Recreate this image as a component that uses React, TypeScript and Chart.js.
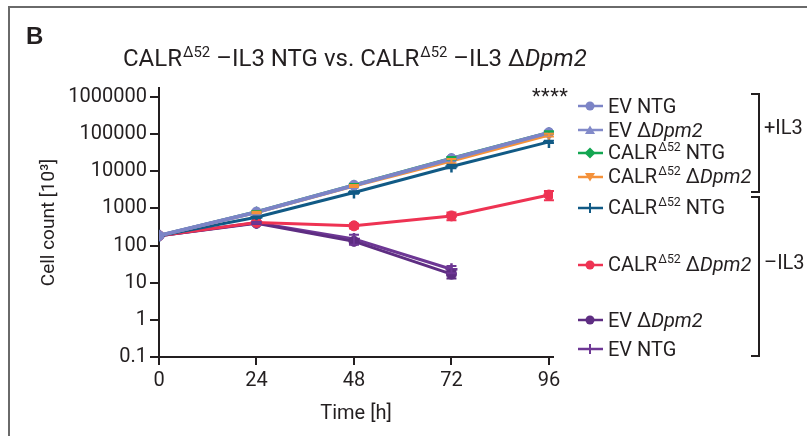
import React, { useEffect, useRef } from "react";
import { Chart, registerables } from "chart.js";
Chart.register(...registerables);

const timePoints = [0, 24, 48, 72, 96];
const xTicks = [0, 24, 48, 72, 96];
const yTicks = [0.1, 1, 10, 100, 1000, 10000, 100000, 1000000];

const seriesLabels = [
  "EV NTG +IL3",
  "EV ΔDpm2 +IL3",
  "CALRΔ52 NTG +IL3",
  "CALRΔ52 ΔDpm2 +IL3",
  "CALRΔ52 NTG −IL3",
  "CALRΔ52 ΔDpm2 −IL3",
  "EV ΔDpm2 −IL3",
  "EV NTG −IL3",
];

const evNtgPlus = [185, 800, 4200, 22000, 110000];
const evDpmPlus = [185, 790, 4100, 21500, 108000];
const calrNtgPlus = [185, 820, 4300, 22500, 112000];
const calrDpmPlus = [185, 780, 4000, 19000, 95000];
const calrNtgMinus = [185, 580, 2700, 13500, 62000];
const calrDpmMinus = [185, 420, 340, 630, 2300];
const evDpmMinus = [185, 400, 130, 17];
const evNtgMinus = [185, 410, 150, 23];

const evNtgPlusErr = [0, 40, 200, 1500, 6000];
const evDpmPlusErr = [0, 40, 200, 1500, 6000];
const calrNtgPlusErr = [0, 40, 250, 1800, 7000];
const calrDpmPlusErr = [0, 40, 250, 2500, 8000];
const calrNtgMinusErr = [0, 30, 200, 1500, 4000];
const calrDpmMinusErr = [0, 30, 50, 150, 650];
const evDpmMinusErr = [0, 20, 15, 4];
const evNtgMinusErr = [0, 20, 45, 5];

const colors = ["#7c84c6", "#828ac9", "#13a651", "#f4913a", "#115a85", "#ee3353", "#5e2d82", "#6d3794"];
const styles = ["circle", "triangle", "rectRot", "triangle", "cross", "circle", "circle", "cross"];
const rotations = [0, 0, 0, 180, 0, 0, 0, 0];
const values = [evNtgPlus, evDpmPlus, calrNtgPlus, calrDpmPlus, calrNtgMinus, calrDpmMinus, evDpmMinus, evNtgMinus];
const errors = [evNtgPlusErr, evDpmPlusErr, calrNtgPlusErr, calrDpmPlusErr, calrNtgMinusErr, calrDpmMinusErr, evDpmMinusErr, evNtgMinusErr];

const FONT = "Roboto, 'Noto Sans', sans-serif";
const INK = "#231f20";

const errorBarPlugin = {
  id: "errorBars",
  afterDatasetsDraw(chart: any) {
    const ctx = chart.ctx;
    const xs = chart.scales.x;
    const ys = chart.scales.y;
    chart.data.datasets.forEach((ds: any) => {
      const err = ds.errors as number[];
      if (!err) return;
      ctx.save();
      ctx.strokeStyle = ds.borderColor;
      ctx.lineWidth = 2;
      ds.data.forEach((pt: any, j: number) => {
        const e = err[j];
        if (!e) return;
        const px = xs.getPixelForValue(pt.x);
        const top = ys.getPixelForValue(pt.y + e);
        const bot = ys.getPixelForValue(Math.max(pt.y - e, pt.y * 0.05));
        ctx.beginPath();
        ctx.moveTo(px, top);
        ctx.lineTo(px, bot);
        ctx.moveTo(px - 5, top);
        ctx.lineTo(px + 5, top);
        ctx.moveTo(px - 5, bot);
        ctx.lineTo(px + 5, bot);
        ctx.stroke();
      });
      ctx.restore();
    });
  },
};

function Marker({ idx }: { idx: number }) {
  const c = colors[idx];
  const s = styles[idx];
  let shape: any = null;
  if (s === "circle") shape = <circle cx={12} cy={6} r={4.5} fill={c} />;
  else if (s === "triangle" && rotations[idx] === 0) shape = <polygon points="12,1.5 17,10 7,10" fill={c} />;
  else if (s === "triangle") shape = <polygon points="12,10.5 17,2 7,2" fill={c} />;
  else if (s === "rectRot") shape = <polygon points="12,0.5 17.5,6 12,11.5 6.5,6" fill={c} />;
  else shape = <line x1={12} y1={1} x2={12} y2={11} stroke={c} strokeWidth={2} />;
  return (
    <svg width={25} height={12} style={{ display: "block" }}>
      <line x1={0} y1={6} x2={25} y2={6} stroke={c} strokeWidth={2.5} />
      {shape}
    </svg>
  );
}

const Sup = ({ children }: any) => (
  <span style={{ fontSize: "0.62em", position: "relative", top: "-0.6em", marginLeft: 1 }}>{children}</span>
);
const Calr = () => (
  <>
    CALR<Sup>Δ52</Sup>
  </>
);
const Dpm = () => (
  <>
    Δ<i>Dpm2</i>
  </>
);

const legendRows: { idx: number; y: number; text: any }[] = [
  { idx: 0, y: 106, text: <>EV NTG</> },
  { idx: 1, y: 130, text: <>EV <Dpm /></> },
  { idx: 2, y: 153, text: <><Calr /> NTG</> },
  { idx: 3, y: 177, text: <><Calr /> <Dpm /></> },
  { idx: 4, y: 208, text: <><Calr /> NTG</> },
  { idx: 5, y: 265, text: <><Calr /> <Dpm /></> },
  { idx: 6, y: 320, text: <>EV <Dpm /></> },
  { idx: 7, y: 349, text: <>EV NTG</> },
];

export default function App() {
  const ref = useRef<HTMLCanvasElement | null>(null);
  useEffect(() => {
    if (!ref.current) return;
    const datasets = values.map((vals, i) => ({
      label: seriesLabels[i],
      data: vals.map((v, j) => ({ x: timePoints[j], y: v })),
      errors: errors[i],
      borderColor: colors[i],
      backgroundColor: colors[i],
      borderWidth: i < 2 ? 3.5 : 3,
      pointStyle: styles[i] as any,
      pointRotation: rotations[i],
      pointRadius: styles[i] === "cross" ? 6 : 5,
      pointBorderWidth: styles[i] === "cross" ? 2.5 : 1,
      tension: 0,
    }));
    const chart = new Chart(ref.current, {
      type: "line",
      data: { datasets } as any,
      options: {
        animation: false,
        responsive: false,
        devicePixelRatio: 1,
        layout: { padding: { top: 88, right: 254, left: 0, bottom: 0 } },
        plugins: { legend: { display: false }, tooltip: { enabled: false }, title: { display: false } },
        scales: {
          x: {
            type: "linear",
            min: 0,
            max: 97,
            afterBuildTicks: (s: any) => {
              s.ticks = xTicks.map((v) => ({ value: v }));
            },
            afterFit: (s: any) => {
              s.height = 79;
            },
            grid: { display: true, drawOnChartArea: false, drawTicks: true, tickLength: 8, color: INK, lineWidth: 2 },
            border: { display: true, color: INK, width: 2 },
            ticks: { color: INK, font: { family: FONT, size: 20 }, padding: 4, maxRotation: 0, autoSkip: false },
            title: {
              display: true,
              text: "Time [h]",
              color: INK,
              font: { family: FONT, size: 20 },
              padding: { top: 0, bottom: 10 },
            },
          },
          y: {
            type: "logarithmic",
            min: 0.1,
            max: 1750000,
            afterBuildTicks: (s: any) => {
              s.ticks = yTicks.map((v) => ({ value: v }));
            },
            afterFit: (s: any) => {
              s.width = 159;
            },
            grid: { display: true, drawOnChartArea: false, drawTicks: true, tickLength: 9, color: INK, lineWidth: 2 },
            border: { display: true, color: INK, width: 2 },
            ticks: {
              color: INK,
              font: { family: FONT, size: 20 },
              padding: 3,
              autoSkip: false,
              callback: (v: any) => String(v),
            },
            title: {
              display: true,
              text: "Cell count [10³]",
              color: INK,
              font: { family: FONT, size: 19 },
              padding: { top: 38, bottom: 0 },
            },
          },
        },
      },
      plugins: [errorBarPlugin],
    });
    return () => chart.destroy();
  }, []);

  const txt: any = { position: "absolute", fontFamily: FONT, color: INK, whiteSpace: "nowrap" };
  return (
    <div style={{ position: "absolute", left: 0, top: 0, width: 807, height: 436, background: "#fff", overflow: "hidden" }}>
      <div style={{ position: "absolute", left: 8, top: 6, width: 820, height: 460, borderTop: "2px solid #6a6a6a", borderLeft: "2px solid #6a6a6a" }} />
      <canvas ref={ref} width={807} height={436} style={{ position: "absolute", left: 0, top: 0, width: 807, height: 436 }} />
      <div style={{ ...txt, left: 26, top: 24, fontSize: 24, fontWeight: 700, lineHeight: "24px", fontFamily: "'Liberation Sans', Arial, sans-serif" }}>B</div>
      <div style={{ ...txt, left: 123, top: 46, fontSize: 24, lineHeight: "24px" }}>
        <Calr /> –IL3 NTG vs. <Calr /> –IL3 <Dpm />
      </div>
      <div style={{ ...txt, left: 532, top: 86, fontSize: 20, lineHeight: "20px", letterSpacing: 0.5 }}>****</div>
      {legendRows.map((r, k) => (
        <div key={k} style={{ ...txt, left: 578, top: r.y - 12, height: 24, display: "flex", alignItems: "center", fontSize: 20 }}>
          <Marker idx={r.idx} />
          <span style={{ marginLeft: 5, lineHeight: "24px" }}>{r.text}</span>
        </div>
      ))}
      <div style={{ position: "absolute", left: 751, top: 93, width: 7, height: 96, borderTop: `2px solid ${INK}`, borderRight: `2px solid ${INK}`, borderBottom: `2px solid ${INK}` }} />
      <div style={{ ...txt, left: 764, top: 115, fontSize: 20, lineHeight: "24px" }}>+IL3</div>
      <div style={{ position: "absolute", left: 751, top: 196, width: 7, height: 157, borderTop: `2px solid ${INK}`, borderRight: `2px solid ${INK}`, borderBottom: `2px solid ${INK}` }} />
      <div style={{ ...txt, left: 764, top: 250, fontSize: 20, lineHeight: "24px" }}>–IL3</div>
    </div>
  );
}
